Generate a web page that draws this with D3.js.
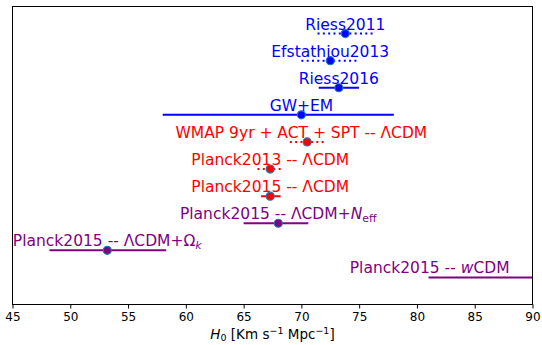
<!DOCTYPE html>
<html>
<head>
<meta charset="utf-8">
<script src="https://cdn.jsdelivr.net/npm/d3@7"></script>
<style>
  body { margin: 0; background: #fff; }
  svg text { font-family: "DejaVu Sans", sans-serif; }
</style>
</head>
<body>
<div id="chart"></div>
<script>
// measurements, top to bottom
var labels = ["Riess2011", "Efstathiou2013", "Riess2016", "GW+EM",
  "WMAP 9yr + ACT + SPT -- ΛCDM", "Planck2013 -- ΛCDM", "Planck2015 -- ΛCDM",
  "Planck2015 -- ΛCDM+N_eff", "Planck2015 -- ΛCDM+Ω_k", "Planck2015 -- wCDM"];
var centers = [73.8, 72.5, 73.24, 70.0, 70.5, 67.3, 67.3, 68.0, 53.2, null];
var lows    = [71.4, 70.0, 71.5, 58.0, 69.0, 66.2, 66.5, 65.0, 48.2, 81.0];
var highs   = [76.2, 74.9, 74.98, 78.0, 72.1, 68.4, 68.2, 70.6, 58.3, 95.0];
var labelAt = [73.8, 72.5, 73.24, 70.0, 70.0, 67.3, 67.3, 68.0, 53.2, 81.1];
var groups  = ["blue", "blue", "blue", "blue", "red", "red", "red", "purple", "purple", "purple"];
var dotted  = [true, true, false, false, true, true, false, false, false, false];
var xTicks  = [45, 50, 55, 60, 65, 70, 75, 80, 85, 90];

var colors = {blue: "#0000ff", red: "#ff0000", purple: "#800080"};

var margin = {top: 6.5, right: 9.5, bottom: 40.5, left: 12.5},
    width = 542 - margin.left - margin.right,
    height = 345 - margin.top - margin.bottom;

var svg = d3.select("#chart")
  .append("svg")
    .attr("width", 542)
    .attr("height", 345)
  .append("g")
    .attr("transform", "translate(" + margin.left + "," + margin.top + ")");

var x = d3.scaleLinear().domain([45, 90]).range([0, width]);
var y = d3.scaleLinear().domain([-1, 10]).range([0, height]);

svg.append("clipPath").attr("id", "clip")
  .append("rect").attr("width", width).attr("height", height);

var rows = labels.map(function(l, i) {
  return {label: l, c: centers[i], lo: lows[i], hi: highs[i], at: labelAt[i],
          col: colors[groups[i]], dot: dotted[i], i: i};
});

var plot = svg.append("g").attr("clip-path", "url(#clip)");

// error bars
plot.selectAll("line.err")
  .data(rows)
  .enter().append("line")
    .attr("class", "err")
    .attr("x1", function(d) { return x(d.lo); })
    .attr("x2", function(d) { return x(d.hi); })
    .attr("y1", function(d) { return y(d.i); })
    .attr("y2", function(d) { return y(d.i); })
    .attr("stroke", function(d) { return d.col; })
    .attr("stroke-width", 2)
    .attr("stroke-dasharray", function(d) { return d.dot ? "2,3.3" : null; });

// points
plot.selectAll("circle")
  .data(rows.filter(function(d) { return d.c != null; }))
  .enter().append("circle")
    .attr("cx", function(d) { return x(d.c); })
    .attr("cy", function(d) { return y(d.i); })
    .attr("r", 4)
    .attr("fill", function(d) { return d.col; })
    .attr("stroke", "#1f77b4")
    .attr("stroke-width", 1.2);

// labels
var txt = svg.selectAll("text.lbl")
  .data(rows)
  .enter().append("text")
    .attr("class", "lbl")
    .attr("x", function(d) { return x(d.at); })
    .attr("y", function(d) { return y(d.i) - 4; })
    .attr("text-anchor", "middle")
    .attr("font-size", "15.5px")
    .attr("fill", function(d) { return d.col; });

txt.each(function(d) {
  var t = d3.select(this);
  if (d.label.indexOf("_eff") > 0) {
    t.append("tspan").text(d.label.split("N_eff")[0]);
    t.append("tspan").attr("font-style", "italic").text("N");
    t.append("tspan").attr("font-size", "11px").attr("dy", 3).text("eff");
  } else if (d.label.indexOf("Ω_k") > 0) {
    t.append("tspan").text(d.label.split("_k")[0]);
    t.append("tspan").attr("font-size", "11px").attr("dy", 3).attr("font-style", "italic").text("k");
  } else if (d.label.indexOf("wCDM") > 0) {
    t.append("tspan").text(d.label.split("wCDM")[0]);
    t.append("tspan").attr("font-style", "italic").text("w");
    t.append("tspan").text("CDM");
  } else {
    t.text(d.label);
  }
});

// x axis
var xAxis = svg.append("g")
  .attr("transform", "translate(0," + height + ")")
  .call(d3.axisBottom(x).tickValues(xTicks).tickSize(4).tickPadding(4));
xAxis.select(".domain").remove();
xAxis.selectAll("text").attr("font-size", "12px").attr("fill", "#000")
  .attr("font-family", "DejaVu Sans, sans-serif");
xAxis.selectAll("line").attr("stroke", "#000");

// frame
svg.append("rect")
  .attr("width", width)
  .attr("height", height)
  .attr("fill", "none")
  .attr("stroke", "#000")
  .attr("stroke-width", 1);

// x label
var xl = svg.append("text")
  .attr("x", width / 2)
  .attr("y", height + 34)
  .attr("text-anchor", "middle")
  .attr("font-size", "13.5px");
xl.append("tspan").attr("font-style", "italic").text("H");
xl.append("tspan").attr("font-size", "9.5px").attr("dy", 2.5).text("0");
xl.append("tspan").attr("dy", -2.5).text(" [Km s");
xl.append("tspan").attr("font-size", "9.5px").attr("dy", -5).text("−1");
xl.append("tspan").attr("dy", 5).text(" Mpc");
xl.append("tspan").attr("font-size", "9.5px").attr("dy", -5).text("−1");
xl.append("tspan").attr("dy", 5).text("]");
</script>
</body>
</html>
